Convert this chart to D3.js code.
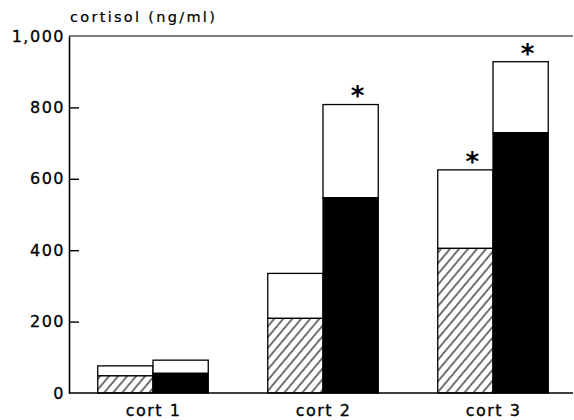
<!DOCTYPE html>
<html>
<head>
<meta charset="utf-8">
<script src="https://cdn.jsdelivr.net/npm/d3@7"></script>
<style>
  html, body { margin: 0; padding: 0; background: #fff; }
  svg { display: block; }
  text { font-family: "DejaVu Sans", sans-serif; fill: #000; }
</style>
</head>
<body>
<svg id="chart" width="574" height="420"></svg>
<script>
// ---- data ----
const categories = ["cort 1", "cort 2", "cort 3"];
const seriesNames = ["hatched", "black"];
const hatchedBase = [48, 209, 405];
const hatchedTotal = [76, 335, 625];
const blackBase = [55, 547, 729];
const blackTotal = [92, 808, 928];
const significant = [[false, false], [false, true], [true, true]];
const yTicks = [0, 200, 400, 600, 800, 1000];
const yTickLabels = ["0", "200", "400", "600", "800", "1,000"];
const yLabel = "cortisol (ng/ml)";

// ---- layout ----
const svg = d3.select("#chart");
const axisX = 69, yTop = 36, yBottom = 393, rightEdge = 573;

const y = d3.scaleLinear().domain([0, 1000]).range([yBottom, yTop]);
const x0 = d3.scaleBand().domain(categories).range([68, 578])
  .paddingInner(0.35).paddingOuter(0.175);
const x1 = d3.scaleBand().domain(seriesNames).range([0, x0.bandwidth()]).padding(0);

const defs = svg.append("defs");
const pw = 6.9;
const pat = defs.append("pattern")
  .attr("id", "hatch").attr("patternUnits", "userSpaceOnUse")
  .attr("width", pw).attr("height", 10)
  .attr("patternTransform", "rotate(40)");
pat.append("rect").attr("width", pw).attr("height", 10).attr("fill", "#fff");
pat.append("line").attr("x1", 1).attr("y1", 0).attr("x2", 1).attr("y2", 10)
  .attr("stroke", "#000").attr("stroke-width", 1.1);

// bars
const rows = categories.map((c, i) => ({
  cat: c,
  bars: [
    { s: "hatched", base: hatchedBase[i], total: hatchedTotal[i], sig: significant[i][0] },
    { s: "black", base: blackBase[i], total: blackTotal[i], sig: significant[i][1] }
  ]
}));

const g = svg.append("g");
rows.forEach(r => {
  r.bars.forEach(b => {
    const bx = x0(r.cat) + x1(b.s);
    const bw = x1.bandwidth();
    g.append("rect")
      .attr("x", bx).attr("y", y(b.total))
      .attr("width", bw).attr("height", y(b.base) - y(b.total))
      .attr("fill", "#fff").attr("stroke", "#000").attr("stroke-width", 1.3);
    g.append("rect")
      .attr("x", bx).attr("y", y(b.base))
      .attr("width", bw).attr("height", y(0) - y(b.base))
      .attr("fill", b.s === "hatched" ? "url(#hatch)" : "#000")
      .attr("stroke", "#000").attr("stroke-width", 1.3);
    if (b.sig) {
      g.append("text")
        .attr("x", bx + bw / 2 + 7).attr("y", y(b.total) - 16)
        .attr("text-anchor", "middle").attr("dominant-baseline", "central")
        .attr("font-family", "Liberation Sans, sans-serif")
        .attr("font-weight", "bold").attr("font-size", 26)
        .attr("dy", "0.3em")
        .text("*");
    }
  });
});

// axes frame
svg.append("line").attr("x1", axisX).attr("x2", rightEdge).attr("y1", yTop).attr("y2", yTop)
  .attr("stroke", "#000").attr("stroke-width", 1);
svg.append("line").attr("x1", axisX).attr("x2", rightEdge).attr("y1", yBottom).attr("y2", yBottom)
  .attr("stroke", "#000").attr("stroke-width", 1.6);

const yAxis = d3.axisLeft(y).tickValues(yTicks)
  .tickFormat((d, i) => yTickLabels[i]).tickSize(-10).tickSizeOuter(0).tickPadding(4);
const ya = svg.append("g").attr("transform", `translate(${axisX},0)`).call(yAxis);
ya.select(".domain").attr("stroke-width", 1.6);
ya.selectAll(".tick line").attr("stroke-width", 1.4);
ya.selectAll(".tick").filter(d => d === 0 || d === 1000).select("line").remove();
ya.selectAll("text").attr("font-family", "DejaVu Sans, sans-serif")
  .attr("font-size", 16).attr("letter-spacing", "1.5px").attr("fill", "#000")
  .attr("stroke", "#000").attr("stroke-width", 0.3);

// x labels
svg.append("g").selectAll("text").data(categories).join("text")
  .attr("x", d => x0(d) + x0.bandwidth() / 2 + 0.5)
  .attr("y", 416)
  .attr("text-anchor", "middle")
  .attr("font-size", 16).attr("letter-spacing", "1.5px")
  .attr("stroke", "#000").attr("stroke-width", 0.3)
  .text(d => d);

// y label
svg.append("text").attr("x", 70).attr("y", 22)
  .attr("font-size", 14.5).attr("letter-spacing", "2.3px")
  .attr("stroke", "#000").attr("stroke-width", 0.2)
  .text(yLabel);
</script>
</body>
</html>
